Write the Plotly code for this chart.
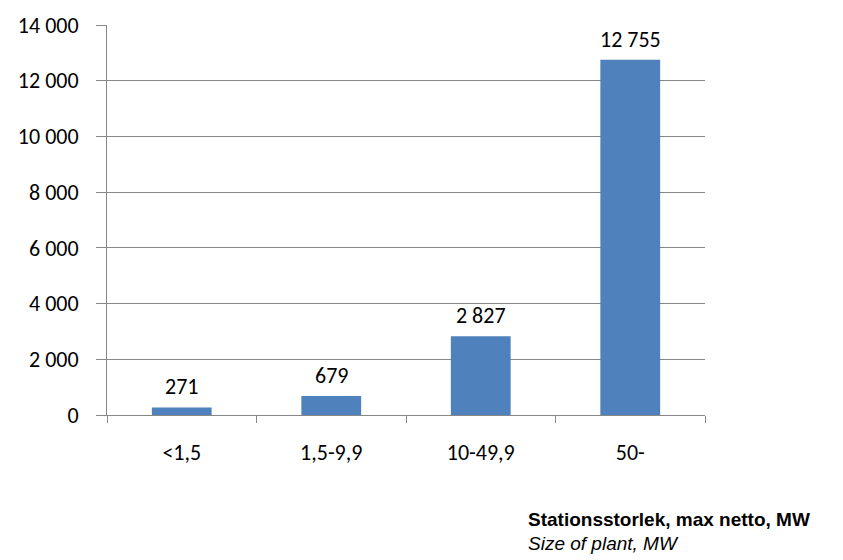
import plotly.graph_objects as go

# Installed capacity by plant size class
categories = ["<1,5", "1,5-9,9", "10-49,9", "50-"]
values = [271, 679, 2827, 12755]
y_ticks = [0, 2000, 4000, 6000, 8000, 10000, 12000, 14000]

bar_color = "#4F81BD"
axis_color = "#878787"
font_main = "Carlito, Lato, Calibri, sans-serif"
font_note = "Liberation Sans, Arial, sans-serif"

# plot area in pixels (used to place the axis title block below the chart)
plot_left, plot_right, plot_top, plot_bottom = 107, 705, 22, 415.5
plot_w = plot_right - plot_left
plot_h = plot_bottom - plot_top

fig = go.Figure(
    go.Bar(
        x=categories,
        y=values,
        marker=dict(color=bar_color, line=dict(width=0)),
        width=0.4,
        hoverinfo="x+y",
    )
)

# value labels above each bar
for cat, val in zip(categories, values):
    fig.add_annotation(
        x=cat, y=val,
        text=f"{val:,}".replace(",", " "),
        showarrow=False,
        yanchor="bottom",
        yshift=5,
        font=dict(family=font_main, size=22, color="#000000"),
    )

fig.update_layout(
    width=843,
    height=560,
    margin=dict(l=plot_left, r=843 - plot_right, t=plot_top, b=560 - plot_bottom),
    paper_bgcolor="white",
    plot_bgcolor="white",
    separators=", ",
    showlegend=False,
    font=dict(family=font_main, size=22, color="#000000"),
    xaxis=dict(
        type="category",
        tickson="boundaries",
        ticks="outside",
        ticklen=7,
        tickcolor=axis_color,
        tickwidth=1,
        showline=True,
        linecolor=axis_color,
        linewidth=1,
        showgrid=False,
        tickfont=dict(family=font_main, size=22),
        ticklabelstandoff=18,
    ),
    yaxis=dict(
        range=[0, 14000],
        tickvals=y_ticks,
        tickformat=",d",
        ticks="outside",
        ticklen=10,
        tickcolor=axis_color,
        showline=True,
        linecolor=axis_color,
        linewidth=1,
        showgrid=True,
        gridcolor=axis_color,
        gridwidth=1,
        zeroline=False,
        tickfont=dict(family=font_main, size=22),
        ticklabelstandoff=13,
    ),
)

# axis title block (Swedish / English) under the chart, bottom right
fig.add_annotation(
    text="<b>Stationsstorlek, max netto, MW</b>",
    xref="paper", yref="paper",
    x=(527 - plot_left) / plot_w, y=-(521 - plot_bottom) / plot_h,
    xanchor="left", yanchor="middle",
    showarrow=False, borderpad=0,
    font=dict(family=font_note, size=19, color="#000000"),
)
fig.add_annotation(
    text="<i>Size of plant, MW</i>",
    xref="paper", yref="paper",
    x=(527 - plot_left) / plot_w, y=-(545 - plot_bottom) / plot_h,
    xanchor="left", yanchor="middle",
    showarrow=False, borderpad=0,
    font=dict(family=font_note, size=19, color="#000000"),
)

fig.write_html("out.html")
